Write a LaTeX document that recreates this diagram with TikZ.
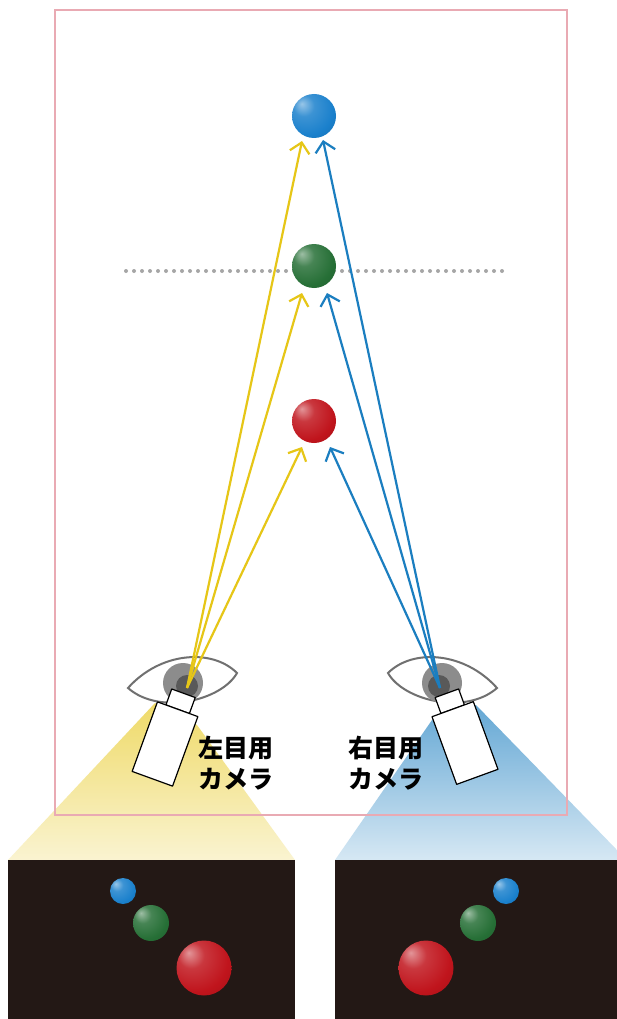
\documentclass[tikz,border=0pt]{standalone}
\usepackage{fontspec}
\newfontfamily\jpfont{Noto Sans CJK JP}
\usetikzlibrary{arrows.meta}

\definecolor{framepink}{HTML}{E9AAB3}
\definecolor{rayyellow}{HTML}{E6C617}
\definecolor{rayblue}{HTML}{1B7EC0}
\definecolor{ballblue}{HTML}{1A80CC}
\definecolor{ballgreen}{HTML}{266F36}
\definecolor{ballred}{HTML}{C0141C}
\definecolor{screen}{HTML}{231815}
\definecolor{lid}{HTML}{707070}

% soft sphere shadings, highlight up and to the left
\newcommand\spheredef[1]{%
  \pgfdeclareradialshading{sphere#1}{\pgfpoint{-14bp}{14bp}}{%
    color(0bp)=(ball#1!45!white); color(12bp)=(ball#1!85!white);
    color(30bp)=(ball#1); color(55bp)=(ball#1!75!black);
    color(72bp)=(ball#1!55!black)}}
\spheredef{blue}
\spheredef{green}
\spheredef{red}

\begin{document}
\begin{tikzpicture}[
    x=1pt,y=-1pt,
    ray/.style={line width=2.2pt, -{Straight Barb[length=10pt,width=20pt,line width=2.2pt]}},
    ball/.style 2 args={circle, inner sep=0pt, minimum size=#1, shade, shading=sphere#2},
    cam/.style={draw=black, fill=white, line width=1.2pt, line join=round},
    camtext/.style={font=\jpfont\bfseries\fontsize{25}{31}\selectfont, align=left}
    ]
    \useasboundingbox (0,0) rectangle (617,1019);
    \fill[white] (0,0) rectangle (617,1019);

    \shade[top color=rayyellow!65, bottom color=rayyellow!20] (155,703) -- (197,725) -- (295,860) -- (8,860) -- cycle;
    \shade[top color=rayblue!68, bottom color=rayblue!18] (432,720) -- (476,705) -- (617,850) -- (617,860) -- (335,860) -- cycle;

    \draw[framepink, line width=1.5pt] (55,10) rectangle (567,815);
    \draw[gray!70, line width=4pt, line cap=round, dash pattern=on 0pt off 8pt] (126,271) -- (505,271);

    \draw[lid, line width=2pt] (128,688) .. controls (160,652) and (212,648) .. (237,673)
        .. controls (222,700) and (160,716) .. cycle;
    \draw[lid, line width=2pt] (497,688) .. controls (465,652) and (413,648) .. (388,673)
        .. controls (403,700) and (465,716) .. cycle;
    \fill[gray!90] (183,683) circle (20);
    \fill[gray!70!black] (187,686) circle (11);
    \fill[gray!90] (442,683) circle (20);
    \fill[gray!70!black] (439,686) circle (11);

    \coordinate (eyeL) at (187,688);
    \coordinate (eyeR) at (440,688);
    \coordinate (tipLb) at (302,141);
    \coordinate (tipRb) at (323,140);
    \coordinate (tipLg) at (302,293);
    \coordinate (tipRg) at (327,293);
    \coordinate (tipLr) at (302,447);
    \coordinate (tipRr) at (330,447);

    \draw[ray, rayyellow] (eyeL) -- (tipLb);
    \draw[ray, rayyellow] (eyeL) -- (tipLg);
    \draw[ray, rayyellow] (eyeL) -- (tipLr);
    \draw[ray, rayblue] (eyeR) -- (tipRb);
    \draw[ray, rayblue] (eyeR) -- (tipRg);
    \draw[ray, rayblue] (eyeR) -- (tipRr);

    \node[ball={44pt}{blue}] (blue) at (314,116) {};
    \node[ball={44pt}{green}] (green) at (314,266) {};
    \node[ball={44pt}{red}] (red) at (314,421) {};

    \begin{scope}[shift={(165,744)}, rotate=-20]
        \draw[cam] (-12.5,-54) rectangle (12.5,-37);
        \draw[cam] (-21.5,-37) rectangle (21.5,37);
    \end{scope}
    \begin{scope}[shift={(465,743)}, rotate=20]
        \draw[cam] (-12.5,-53) rectangle (12.5,-36);
        \draw[cam] (-22,-36) rectangle (22,36);
    \end{scope}

    \node[camtext] (textL) at (236,763) {左目用\\カメラ};
    \node[camtext] (textR) at (386,763) {右目用\\カメラ};

    \fill[screen] (8,860) rectangle (295,1019);
    \fill[screen] (335,860) rectangle (617,1019);
    \node[ball={26pt}{blue}] (blueL) at (123,891) {};
    \node[ball={36pt}{green}] (greenL) at (151,923) {};
    \node[ball={55pt}{red}] (redL) at (204,968) {};
    \node[ball={26pt}{blue}] (blueR) at (506,891) {};
    \node[ball={36pt}{green}] (greenR) at (478,923) {};
    \node[ball={55pt}{red}] (redR) at (426,968) {};
\end{tikzpicture}
\end{document}
